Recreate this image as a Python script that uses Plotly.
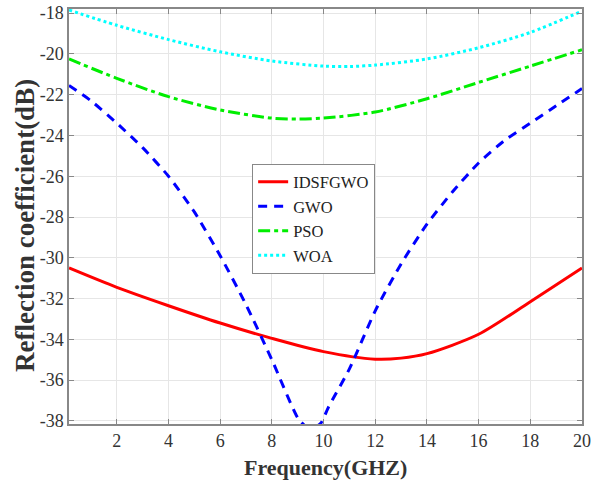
import plotly.graph_objects as go

x_ids = [0.15, 2, 4, 6, 8, 10, 12, 13, 14, 16, 18, 20]
y_ids = [-30.5, -31.45, -32.35, -33.2, -33.95, -34.6, -34.97, -34.92, -34.7, -33.75, -32.15, -30.5]

x_gwo = [0.15, 1, 2, 3, 4, 5, 6, 7, 8, 9, 9.3, 9.6, 9.9, 10.2, 11, 12, 13, 14, 15, 16, 17, 18, 19, 20]
y_gwo = [-21.55, -22.3, -23.4, -24.6, -26.0, -27.75, -29.9, -32.3, -35.0, -37.85, -38.25, -38.35, -38.1,
         -37.3, -35.45, -32.6, -30.3, -28.35, -26.75, -25.35, -24.25, -23.4, -22.55, -21.7]

x_pso = [0.15, 2, 4, 6, 8, 9, 10, 12, 14, 16, 18, 20]
y_pso = [-20.25, -21.2, -22.1, -22.75, -23.15, -23.2, -23.15, -22.85, -22.2, -21.4, -20.6, -19.8]

x_woa = [0.15, 2, 4, 6, 8, 10, 11, 12, 14, 16, 18, 20]
y_woa = [-17.85, -18.6, -19.3, -19.9, -20.35, -20.6, -20.62, -20.55, -20.25, -19.7, -18.95, -17.9]

x_ticks = [2, 4, 6, 8, 10, 12, 14, 16, 18, 20]
y_ticks = [-38, -36, -34, -32, -30, -28, -26, -24, -22, -20, -18]

font = "Liberation Serif"

fig = go.Figure()
fig.add_trace(go.Scatter(x=x_ids, y=y_ids, name="IDSFGWO", mode="lines", line_shape="spline",
                         line=dict(color="#ff0000", width=3, smoothing=0.8)))
fig.add_trace(go.Scatter(x=x_gwo, y=y_gwo, name="GWO", mode="lines", line_shape="spline",
                         line=dict(color="#0000ff", width=3, dash="9px,7px", smoothing=0.6)))
fig.add_trace(go.Scatter(x=x_pso, y=y_pso, name="PSO", mode="lines", line_shape="spline",
                         line=dict(color="#00ee00", width=3, dash="12px,4px,4px,4px", smoothing=0.8)))
fig.add_trace(go.Scatter(x=x_woa, y=y_woa, name="WOA", mode="lines", line_shape="spline",
                         line=dict(color="#00ffff", width=3, dash="3px,3px", smoothing=0.8)))

axis_common = dict(showline=True, linecolor="#888888", linewidth=1.5, mirror="ticks",
                   ticks="inside", ticklen=5, tickcolor="#888888", automargin=False,
                   showgrid=True, gridcolor="#e6e6e6", gridwidth=1, zeroline=False,
                   tickfont=dict(family=font, size=18, color="#333333"))

fig.update_layout(
    width=594, height=480,
    font=dict(family=font, color="#333333", size=18),
    margin=dict(l=69, r=12, t=9, b=56, autoexpand=False),
    paper_bgcolor="white", plot_bgcolor="white",
    showlegend=True,
    hovermode=False,
    legend=dict(x=0.357, y=0.495, xanchor="left", yanchor="middle",
                bgcolor="white", bordercolor="#888888", borderwidth=1,
                font=dict(family=font, size=16.5, color="#222222"),
                tracegroupgap=0, itemwidth=30),
    xaxis=dict(range=[0.15, 20], tickmode="array", tickvals=x_ticks,
               ticktext=[str(v) for v in x_ticks], **axis_common),
    yaxis=dict(range=[-38.15, -17.8], tickmode="array", tickvals=y_ticks,
               ticktext=[str(v) for v in y_ticks], **axis_common),
    annotations=[
        dict(text="<b>Frequency(GHZ)</b>", xref="paper", yref="paper", x=0.5, y=-0.106,
             xanchor="center", yanchor="middle", showarrow=False,
             font=dict(family=font, size=22, color="#333333")),
        dict(text="<b>Reflection coefficient(dB)</b>", xref="paper", yref="paper", x=-0.087, y=0.478,
             xanchor="center", yanchor="middle", showarrow=False, textangle=-90,
             font=dict(family=font, size=27, color="#333333")),
    ],
)

fig.write_html("out.html", config={"displayModeBar": False},
               post_script="document.body.style.margin='0';")
